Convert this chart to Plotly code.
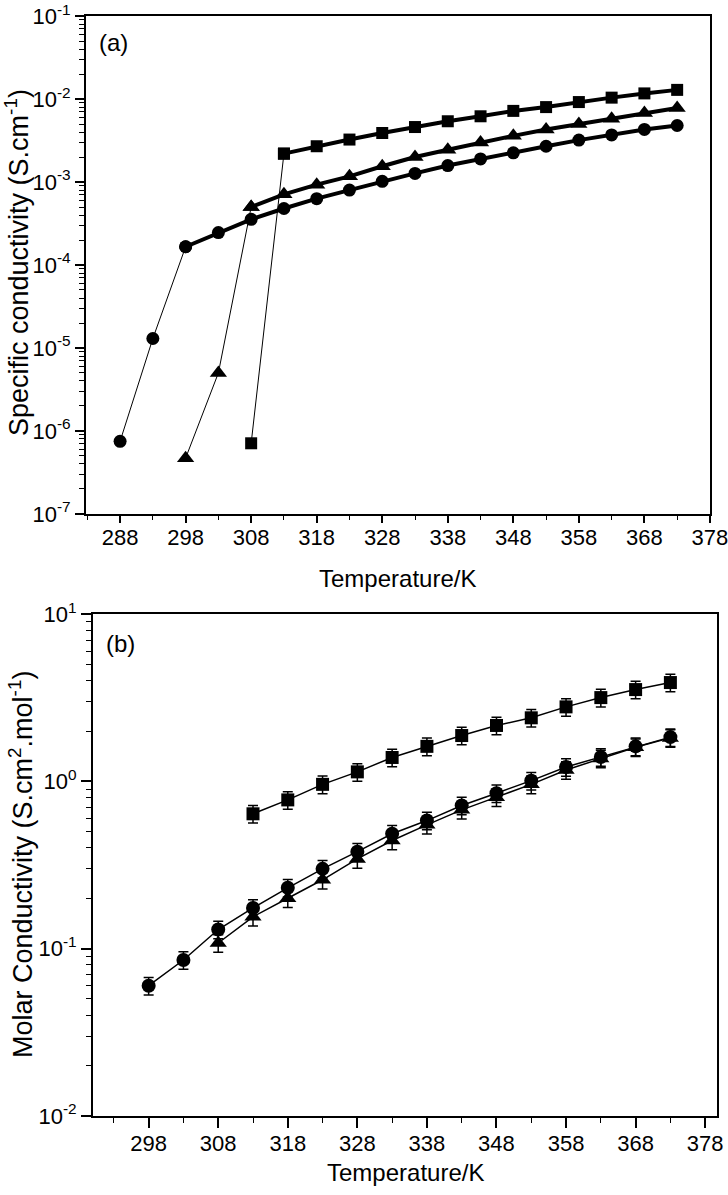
import plotly.graph_objects as go

# ---------------- Data: panel (a) specific conductivity ----------------
T_circle_a = [288, 293, 298, 303, 308, 313, 318, 323, 328, 333, 338, 343, 348, 353, 358, 363, 368, 373]
k_circle_a = [7.5e-7, 1.3e-5, 1.66e-4, 2.46e-4, 3.55e-4, 4.8e-4, 6.3e-4, 8.0e-4, 1.02e-3, 1.27e-3,
              1.58e-3, 1.9e-3, 2.25e-3, 2.7e-3, 3.2e-3, 3.7e-3, 4.3e-3, 4.8e-3]
T_tri_a = [298, 303, 308, 313, 318, 323, 328, 333, 338, 343, 348, 353, 358, 363, 368, 373]
k_tri_a = [4.7e-7, 5.0e-6, 5.0e-4, 7.1e-4, 9.3e-4, 1.17e-3, 1.55e-3, 2.0e-3, 2.45e-3, 3.0e-3,
           3.6e-3, 4.3e-3, 5.0e-3, 5.8e-3, 6.8e-3, 7.8e-3]
T_sq_a = [308, 313, 318, 323, 328, 333, 338, 343, 348, 353, 358, 363, 368, 373]
k_sq_a = [7.1e-7, 2.2e-3, 2.7e-3, 3.25e-3, 3.9e-3, 4.6e-3, 5.4e-3, 6.2e-3, 7.2e-3, 8.0e-3,
          9.2e-3, 1.04e-2, 1.17e-2, 1.29e-2]
# number of points in the steep (thin-line) part of each series
n_thin_circle = 3
n_thin_tri = 3
n_thin_sq = 2

# ---------------- Data: panel (b) molar conductivity ----------------
T_circle_b = [298, 303, 308, 313, 318, 323, 328, 333, 338, 343, 348, 353, 358, 363, 368, 373]
L_circle_b = [0.060, 0.0855, 0.130, 0.175, 0.231, 0.30, 0.38, 0.486, 0.583, 0.718, 0.85, 1.01,
              1.22, 1.40, 1.62, 1.84]
T_tri_b = [308, 313, 318, 323, 328, 333, 338, 343, 348, 353, 358, 363, 368, 373]
L_tri_b = [0.108, 0.155, 0.20, 0.258, 0.344, 0.443, 0.55, 0.676, 0.805, 0.96, 1.17, 1.37, 1.60, 1.82]
T_sq_b = [313, 318, 323, 328, 333, 338, 343, 348, 353, 358, 363, 368, 373]
L_sq_b = [0.64, 0.775, 0.96, 1.14, 1.39, 1.62, 1.88, 2.16, 2.40, 2.79, 3.17, 3.54, 3.90]
err_pct_b = 12

# ---------------- Tick labels ----------------
yticks_a = [1e-7, 1e-6, 1e-5, 1e-4, 1e-3, 1e-2, 1e-1]
yticktext_a = ["10<sup>-7</sup>", "10<sup>-6</sup>", "10<sup>-5</sup>", "10<sup>-4</sup>",
               "10<sup>-3</sup>", "10<sup>-2</sup>", "10<sup>-1</sup>"]
yticks_b = [1e-2, 1e-1, 1e0, 1e1]
yticktext_b = ["10<sup>-2</sup>", "10<sup>-1</sup>", "10<sup>0</sup>", "10<sup>1</sup>"]

W, H = 728, 1195
FONT = "Liberation Sans, Arial, sans-serif"

fig = go.Figure()


def add_a(T, k, n_thin, symbol, size):
    fig.add_trace(go.Scatter(x=T[:n_thin], y=k[:n_thin], mode="lines+markers",
                             line=dict(color="black", width=1),
                             marker=dict(symbol=symbol, size=size, color="black"),
                             xaxis="x", yaxis="y", showlegend=False, cliponaxis=False))
    fig.add_trace(go.Scatter(x=T[n_thin - 1:], y=k[n_thin - 1:], mode="lines+markers",
                             line=dict(color="black", width=4),
                             marker=dict(symbol=symbol, size=size, color="black"),
                             xaxis="x", yaxis="y", showlegend=False, cliponaxis=False))


add_a(T_circle_a, k_circle_a, n_thin_circle, "circle", 13)
add_a(T_tri_a, k_tri_a, n_thin_tri, "triangle-up", 15)
add_a(T_sq_a, k_sq_a, n_thin_sq, "square", 12)


def add_b(T, L, symbol, size):
    fig.add_trace(go.Scatter(x=T, y=L, mode="lines+markers",
                             line=dict(color="black", width=1.5),
                             marker=dict(symbol=symbol, size=size, color="black"),
                             error_y=dict(type="percent", value=err_pct_b, color="black",
                                          thickness=1.5, width=5),
                             xaxis="x2", yaxis="y2", showlegend=False))


add_b(T_sq_b, L_sq_b, "square", 13)
add_b(T_tri_b, L_tri_b, "triangle-up", 15)
add_b(T_circle_b, L_circle_b, "circle", 14)


def py(ypix):
    return 1 - ypix / H


common_axis = dict(showline=True, linecolor="black", linewidth=2, mirror=True,
                   showgrid=False, zeroline=False, automargin=False,
                   ticklabeloverflow="allow",
                   tickfont=dict(family=FONT, size=22, color="black"), tickcolor="black")

fig.update_layout(
    width=W, height=H,
    margin=dict(l=0, r=0, t=0, b=0),
    paper_bgcolor="white", plot_bgcolor="white",
    font=dict(family=FONT, color="black"),
    xaxis=dict(domain=[86 / W, 710 / W], anchor="y", range=[282.8, 378.01],
               tickmode="linear", tick0=288, dtick=10, ticks="outside", ticklen=7, tickwidth=1.5,
               ticklabelstandoff=-4,
               minor=dict(tickmode="linear", tick0=283, dtick=5, ticks="outside", ticklen=4,
                          tickwidth=1.2, tickcolor="black"),
               **common_axis),
    yaxis=dict(domain=[py(514), py(16)], anchor="x", type="log", range=[-7.001, -0.999],
               tickmode="array", tickvals=yticks_a, ticktext=yticktext_a,
               ticks="outside", ticklen=9, tickwidth=1.5,
               minor=dict(dtick="D1", ticks="outside", ticklen=5, tickwidth=1.2, tickcolor="black"),
               **common_axis),
    xaxis2=dict(domain=[93 / W, 717 / W], anchor="y2", range=[290, 379.7],
                tickmode="linear", tick0=298, dtick=10, ticks="outside", ticklen=10, tickwidth=1.5,
                ticklabelstandoff=-3,
                minor=dict(tickmode="linear", tick0=293, dtick=5, ticks="outside", ticklen=5,
                           tickwidth=1.2, tickcolor="black"),
                **common_axis),
    yaxis2=dict(domain=[py(1116), py(614)], anchor="x2", type="log", range=[-2.001, 1.001],
                tickmode="array", tickvals=yticks_b, ticktext=yticktext_b,
                ticks="outside", ticklen=10, tickwidth=1.5,
                minor=dict(dtick="D1", ticks="outside", ticklen=5, tickwidth=1.2, tickcolor="black"),
                **common_axis),
)

annos = [
    dict(text="(a)", x=97 / W, y=py(42), xanchor="left", yanchor="middle", size=24),
    dict(text="(b)", x=104 / W, y=py(643), xanchor="left", yanchor="middle", size=24),
    dict(text="Temperature/K", x=(86 + 710) / 2 / W, y=py(578), xanchor="center", yanchor="middle", size=24),
    dict(text="Temperature/K", x=(93 + 717) / 2 / W, y=py(1172), xanchor="center", yanchor="middle", size=24),
]
for a in annos:
    fig.add_annotation(text=a["text"], x=a["x"], y=a["y"], xref="paper", yref="paper",
                       xanchor=a["xanchor"], yanchor=a["yanchor"], showarrow=False,
                       font=dict(family=FONT, size=a["size"], color="black"))

fig.add_annotation(text="Specific conductivity (S.cm<sup>-1</sup>)", x=17 / W, y=py(263),
                   xref="paper", yref="paper", textangle=-90, showarrow=False,
                   xanchor="center", yanchor="middle",
                   font=dict(family=FONT, size=27, color="black"))
fig.add_annotation(text="Molar Conductivity (S.cm<sup>2</sup>.mol<sup>-1</sup>)", x=21 / W, y=py(865),
                   xref="paper", yref="paper", textangle=-90, showarrow=False,
                   xanchor="center", yanchor="middle",
                   font=dict(family=FONT, size=27, color="black"))

fig.write_html("out.html", config={"displayModeBar": False},
               post_script="document.body.style.margin='0';document.body.style.overflow='hidden';")
